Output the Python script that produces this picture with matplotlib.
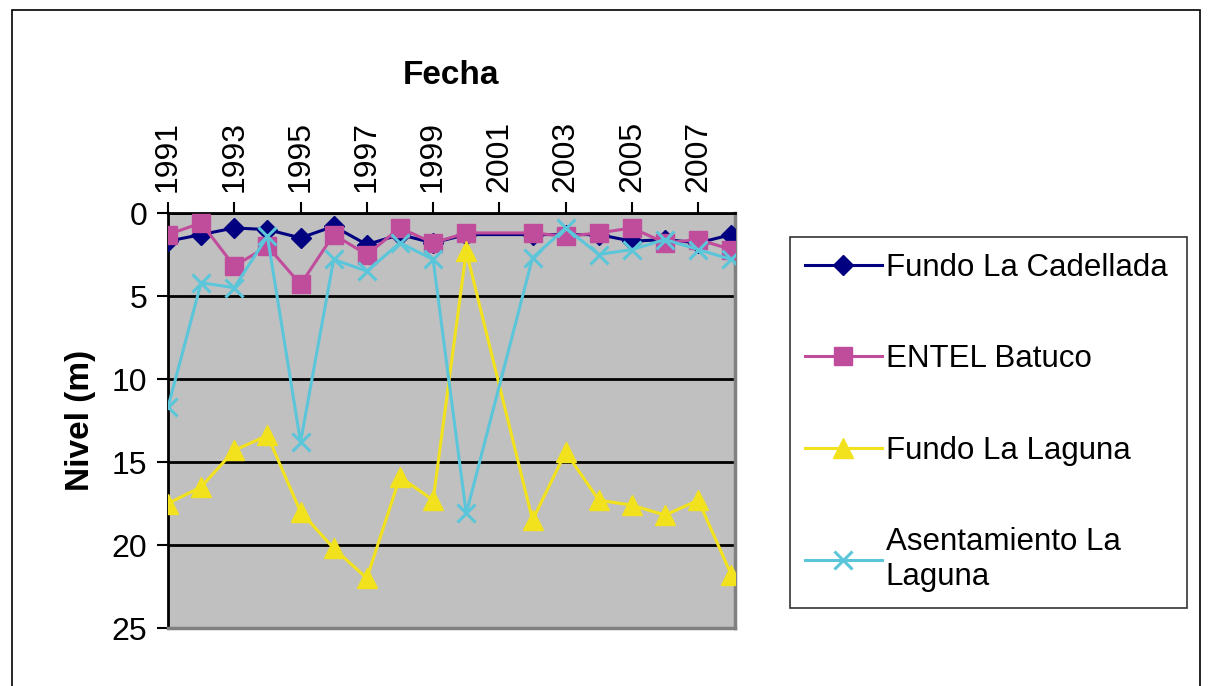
import matplotlib.pyplot as plt
from matplotlib.patches import Rectangle

plt.rcParams['font.family'] = ['Liberation Sans', 'DejaVu Sans']

# Years with measurements (no data for 2001)
years = [1991, 1992, 1993, 1994, 1995, 1996, 1997, 1998, 1999, 2000,
         2002, 2003, 2004, 2005, 2006, 2007, 2008]

cadellada = [1.7, 1.3, 0.9, 1.0, 1.5, 0.8, 1.9, 1.3, 1.8, 1.3,
             1.3, 1.3, 1.3, 1.7, 1.6, 1.8, 1.3]
entel = [1.3, 0.6, 3.2, 2.0, 4.3, 1.3, 2.5, 0.9, 1.8, 1.2,
         1.2, 1.4, 1.2, 0.9, 1.8, 1.6, 2.2]
fundo_laguna = [17.5, 16.5, 14.3, 13.4, 18.0, 20.2, 22.0, 15.9, 17.3, 2.3,
                18.5, 14.4, 17.3, 17.6, 18.2, 17.3, 21.8]
asentamiento = [11.7, 4.2, 4.5, 1.4, 13.8, 2.8, 3.5, 1.8, 2.8, 18.1,
                2.7, 0.9, 2.5, 2.2, 1.6, 2.2, 2.8]

year_ticks = [1991, 1993, 1995, 1997, 1999, 2001, 2003, 2005, 2007]
level_ticks = [0, 5, 10, 15, 20, 25]

fig = plt.figure(figsize=(12.11, 6.86), dpi=100)
ax = fig.add_axes([0.1387, 0.0845, 0.468, 0.605])
ax.set_facecolor('#C0C0C0')

lw = 2.2
ax.plot(years, cadellada, color='#000080', lw=lw, marker='D', ms=10,
        label='Fundo La Cadellada', zorder=3)
ax.plot(years, entel, color='#C04C9C', lw=lw, marker='s', ms=13,
        label='ENTEL Batuco', zorder=4)
ax.plot(years, fundo_laguna, color='#F2E21E', lw=lw, marker='^', ms=14,
        label='Fundo La Laguna', zorder=5)
ax.plot(years, asentamiento, color='#5BC5DA', lw=lw, marker='x', ms=13,
        mew=2.2, label='Asentamiento La\nLaguna', zorder=6)

ax.set_xlim(1991, 2008.1)
ax.set_ylim(25, 0)
ax.set_yticks(level_ticks)
ax.set_xticks(year_ticks)
ax.set_xticklabels([str(y) for y in year_ticks], rotation=90)
ax.xaxis.tick_top()
ax.xaxis.set_label_position('top')
ax.tick_params(axis='both', labelsize=23, direction='out', length=8,
               width=1.5, color='black', pad=7)

ax.yaxis.grid(True, color='black', lw=2)
ax.set_axisbelow(True)
for side in ('top', 'left'):
    ax.spines[side].set_color('black')
    ax.spines[side].set_linewidth(2)
for side in ('bottom', 'right'):
    ax.spines[side].set_color('#808080')
    ax.spines[side].set_linewidth(2.5)

ax.set_xlabel('Fecha', fontsize=24, fontweight='bold', labelpad=27)
ax.set_ylabel('Nivel (m)', fontsize=24, fontweight='bold', labelpad=11)

leg = fig.legend(loc='upper left', bbox_to_anchor=(0.652, 0.6545, 0.328, 0.0),
                 mode='expand', fontsize=22.5, frameon=True, fancybox=False,
                 edgecolor='black', handlelength=2.45, handletextpad=0.12,
                 labelspacing=1.97, borderpad=0.5, borderaxespad=0)
leg.get_frame().set_linewidth(1.2)

# chart area border
fig.patches.append(Rectangle((0.0099, -0.05), 0.981, 1.035,
                             transform=fig.transFigure, fill=False,
                             edgecolor='black', lw=1.2))

fig.savefig('out.png', dpi=100)
